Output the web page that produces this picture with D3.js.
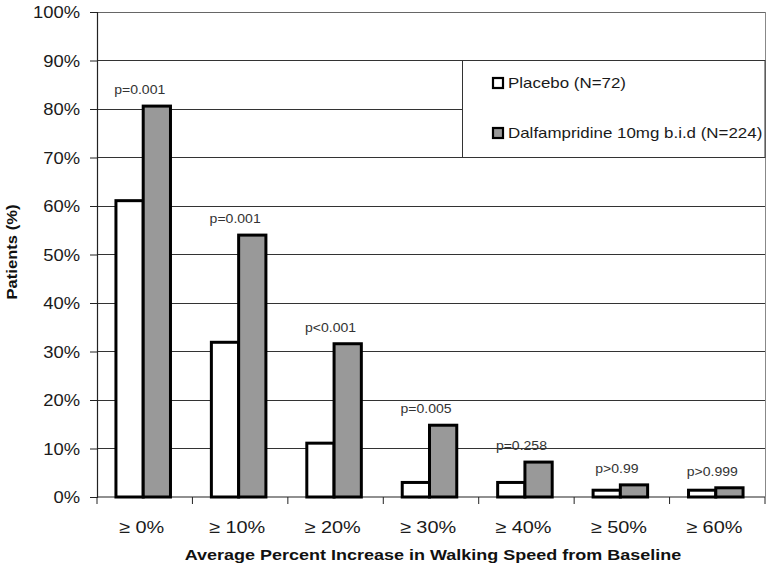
<!DOCTYPE html>
<html>
<head>
<meta charset="utf-8">
<script src="https://cdn.jsdelivr.net/npm/d3@7"></script>
<style>
  html, body { margin: 0; padding: 0; background: #fff; }
  svg { display: block; }
  text { font-family: "Liberation Sans", Arial, sans-serif; }
</style>
</head>
<body>
<svg id="chart" width="767" height="565"></svg>
<script>
// ---- data ----
const categories = ["\u2265 0%", "\u2265 10%", "\u2265 20%", "\u2265 30%", "\u2265 40%", "\u2265 50%", "\u2265 60%"];
const placebo = [61.1, 31.9, 11.1, 3.0, 3.0, 1.4, 1.4];
const dalfampridine = [80.6, 54.0, 31.6, 14.8, 7.2, 2.5, 1.9];
const pValues = ["p=0.001", "p=0.001", "p<0.001", "p=0.005", "p=0.258", "p>0.99", "p>0.999"];
const seriesNames = ["Placebo (N=72)", "Dalfampridine 10mg b.i.d (N=224)"];
const yTicks = [0, 10, 20, 30, 40, 50, 60, 70, 80, 90, 100];
const yTitle = "Patients (%)";
const xTitle = "Average Percent Increase in Walking Speed from Baseline";

// ---- layout ----
const plotLeft = 97, plotRight = 765, plotTop = 12, plotBottom = 497;
const svg = d3.select("#chart");

const x = d3.scaleBand().domain(categories).range([plotLeft, plotRight]).paddingInner(0).paddingOuter(0);
const y = d3.scaleLinear().domain([0, 100]).range([plotBottom, plotTop]);
const barW = x.bandwidth() / 3.5;
const xs = d3.scaleBand().domain([0, 1]).range([0, 2 * barW]);

function stretchText(sel, k) {
  sel.each(function () {
    const t = d3.select(this);
    const ax = +t.attr("data-x"), ay = +t.attr("data-y");
    t.attr("x", 0).attr("y", 0)
     .attr("transform", `translate(${ax},${ay}) scale(${k},1)`);
  });
}

// gridlines
svg.append("g").selectAll("line").data(yTicks.filter(d => d > 0)).join("line")
  .attr("x1", plotLeft).attr("x2", plotRight)
  .attr("y1", d => y(d)).attr("y2", d => y(d))
  .attr("stroke", d => d === 100 ? "#666" : "#333").attr("stroke-width", 1)
  .attr("shape-rendering", "crispEdges");

// right border
svg.append("line").attr("x1", plotRight).attr("x2", plotRight).attr("y1", y(100)).attr("y2", y(0))
  .attr("stroke", "#888").attr("stroke-width", 1).attr("shape-rendering", "crispEdges");

// y axis
const yAxis = svg.append("g").attr("transform", `translate(${plotLeft},0)`)
  .call(d3.axisLeft(y).tickValues(yTicks).tickFormat(d => d + "%").tickSize(7).tickPadding(10));
yAxis.select(".domain").attr("stroke", "#222").attr("stroke-width", 1.2);
yAxis.selectAll(".tick line").attr("stroke", "#222");
yAxis.selectAll(".tick text").attr("font-size", 16).attr("fill", "#1a1a1a")
  .attr("font-family", "'Liberation Sans', Arial, sans-serif")
  .each(function () {
    const t = d3.select(this);
    t.attr("data-x", -17).attr("data-y", 0).attr("dy", "0.36em");
  }).call(stretchText, 1.15);

// x axis (ticks at category boundaries)
const boundaries = categories.map(c => x(c)).concat([plotRight]);
const xg = svg.append("g");
xg.append("line").attr("x1", plotLeft).attr("x2", plotRight).attr("y1", plotBottom).attr("y2", plotBottom)
  .attr("stroke", "#222").attr("stroke-width", 1.2);
xg.selectAll("line.tk").data(boundaries).join("line").attr("class", "tk")
  .attr("x1", d => d).attr("x2", d => d).attr("y1", plotBottom).attr("y2", plotBottom + 7)
  .attr("stroke", "#222");
xg.selectAll("text").data(categories).join("text")
  .attr("data-x", d => x(d) + x.bandwidth() / 2 - 3).attr("data-y", 533)
  .attr("text-anchor", "middle").attr("font-size", 17).attr("fill", "#1a1a1a")
  .text(d => d).call(stretchText, 1.17);

// bars
const series = [
  { name: seriesNames[0], values: placebo, fill: "#ffffff" },
  { name: seriesNames[1], values: dalfampridine, fill: "#999999" }
];
series.forEach((s, si) => {
  svg.append("g").selectAll("rect").data(categories).join("rect")
    .attr("x", (c) => x(c) + (x.bandwidth() - 2 * barW) / 2 + xs(si) - 1.5)
    .attr("width", barW)
    .attr("y", (c, i) => y(s.values[i]))
    .attr("height", (c, i) => y(0) - y(s.values[i]))
    .attr("fill", s.fill).attr("stroke", "#000").attr("stroke-width", 3);
});

// p-value labels
svg.append("g").selectAll("text").data(categories).join("text")
  .attr("data-x", (c) => x(c) + x.bandwidth() / 2 - 5)
  .attr("data-y", (c, i) => y(dalfampridine[i]) - 12)
  .attr("text-anchor", "middle").attr("font-size", 12).attr("fill", "#333")
  .text((c, i) => pValues[i]).call(stretchText, 1.17);

// legend
const lg = svg.append("g");
lg.append("rect").attr("x", 462.5).attr("y", 60.5).attr("width", plotRight - 462.5).attr("height", 97)
  .attr("fill", "#fff").attr("stroke", "#333").attr("stroke-width", 1);
const legRows = [83, 133];
series.forEach((s, i) => {
  lg.append("rect").attr("x", 493).attr("y", legRows[i] - 5).attr("width", 10).attr("height", 10)
    .attr("fill", s.fill).attr("stroke", "#000").attr("stroke-width", 2.2);
  lg.append("text").attr("data-x", 508).attr("data-y", legRows[i] + 5)
    .attr("font-size", 14).attr("fill", "#1a1a1a").text(s.name).call(stretchText, 1.21);
});

// axis titles
const yt = svg.append("text").attr("font-size", 14).attr("font-weight", "bold").attr("fill", "#111")
  .attr("text-anchor", "middle").text(yTitle);
{
  const w = yt.node().getComputedTextLength();
  yt.attr("transform", `translate(17,252) rotate(-90) scale(${95 / w},1)`);
}
const xt = svg.append("text").attr("font-size", 14).attr("font-weight", "bold").attr("fill", "#111")
  .attr("text-anchor", "middle").text(xTitle);
{
  const w = xt.node().getComputedTextLength();
  xt.attr("transform", `translate(433,560) scale(${497 / w},1)`);
}
</script>
</body>
</html>
